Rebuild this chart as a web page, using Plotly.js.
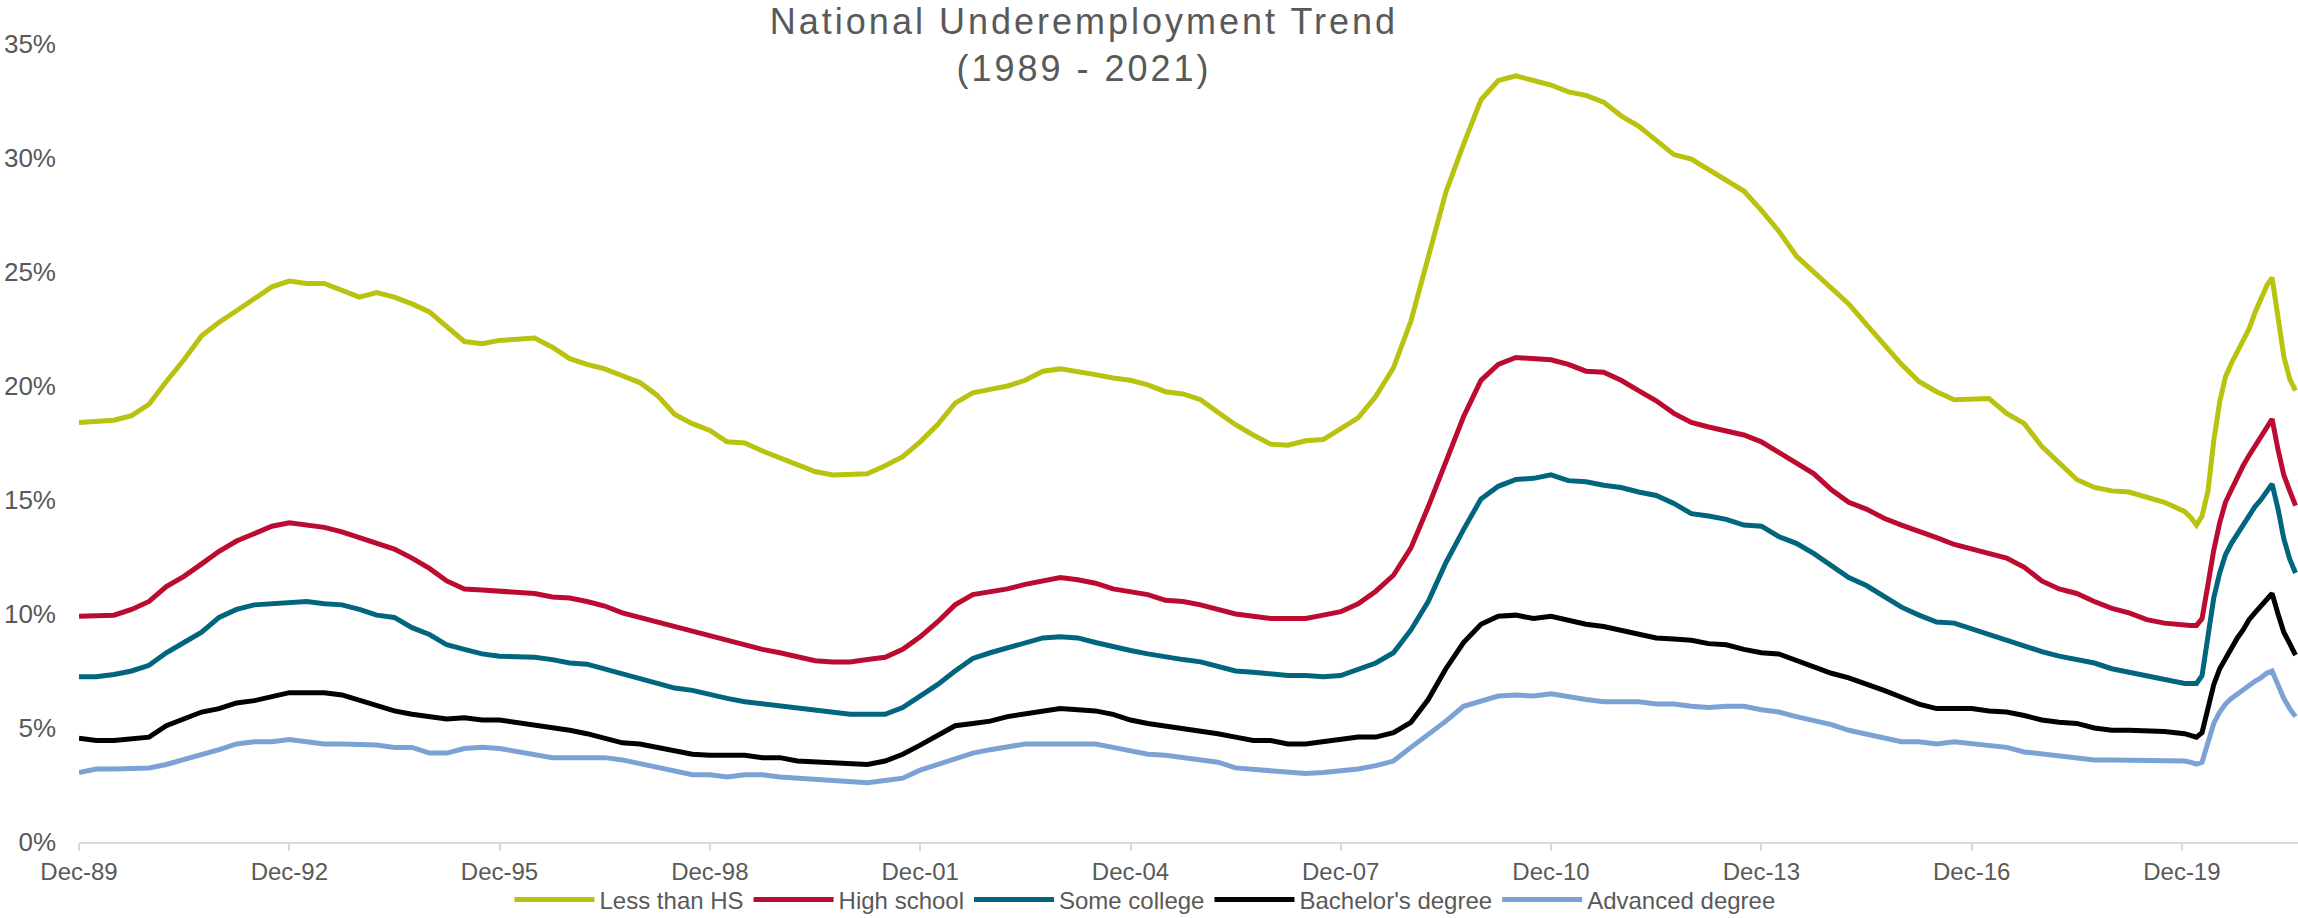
<!DOCTYPE html>
<html>
<head>
<meta charset="utf-8">
<script src="https://cdn.plot.ly/plotly-3.0.1.min.js"></script>
<style>
html,body{margin:0;padding:0;background:#ffffff;}
#chart{width:2298px;height:918px;}
.gtitle{letter-spacing:3px;}
</style>
</head>
<body>
<div id="chart"></div>
<script>
// Observation dates (quarterly readings, then monthly through the 2020-21 spike)
const dates = [
'1989-12-01',
'1990-03-01','1990-06-01','1990-09-01','1990-12-01',
'1991-03-01','1991-06-01','1991-09-01','1991-12-01',
'1992-03-01','1992-06-01','1992-09-01','1992-12-01',
'1993-03-01','1993-06-01','1993-09-01','1993-12-01',
'1994-03-01','1994-06-01','1994-09-01','1994-12-01',
'1995-03-01','1995-06-01','1995-09-01','1995-12-01',
'1996-03-01','1996-06-01','1996-09-01','1996-12-01',
'1997-03-01','1997-06-01','1997-09-01','1997-12-01',
'1998-03-01','1998-06-01','1998-09-01','1998-12-01',
'1999-03-01','1999-06-01','1999-09-01','1999-12-01',
'2000-03-01','2000-06-01','2000-09-01','2000-12-01',
'2001-03-01','2001-06-01','2001-09-01','2001-12-01',
'2002-03-01','2002-06-01','2002-09-01','2002-12-01',
'2003-03-01','2003-06-01','2003-09-01','2003-12-01',
'2004-03-01','2004-06-01','2004-09-01','2004-12-01',
'2005-03-01','2005-06-01','2005-09-01','2005-12-01',
'2006-03-01','2006-06-01','2006-09-01','2006-12-01',
'2007-03-01','2007-06-01','2007-09-01','2007-12-01',
'2008-03-01','2008-06-01','2008-09-01','2008-12-01',
'2009-03-01','2009-06-01','2009-09-01','2009-12-01',
'2010-03-01','2010-06-01','2010-09-01','2010-12-01',
'2011-03-01','2011-06-01','2011-09-01','2011-12-01',
'2012-03-01','2012-06-01','2012-09-01','2012-12-01',
'2013-03-01','2013-06-01','2013-09-01','2013-12-01',
'2014-03-01','2014-06-01','2014-09-01','2014-12-01',
'2015-03-01','2015-06-01','2015-09-01','2015-12-01',
'2016-03-01','2016-06-01','2016-09-01','2016-12-01',
'2017-03-01','2017-06-01','2017-09-01','2017-12-01',
'2018-03-01','2018-06-01','2018-09-01','2018-12-01',
'2019-03-01','2019-06-01','2019-09-01',
'2019-12-15','2020-01-15','2020-02-15','2020-03-15','2020-04-15','2020-05-15','2020-06-15',
'2020-07-15','2020-08-15','2020-09-15','2020-10-15','2020-11-15','2020-12-15',
'2021-01-15','2021-02-15','2021-03-15','2021-04-15','2021-05-15','2021-06-15','2021-07-15'
];

const lessThanHS = [
18.4,18.45,18.5,18.7,19.2,20.2,21.15,22.2,22.8,23.3,23.8,24.35,24.6,24.5,24.5,24.2,23.9,24.1,23.9,23.6,23.25,22.6,21.95,21.85,22.0,22.05,22.1,21.7,21.2,20.95,20.75,20.45,20.15,
19.6,18.75,18.35,18.05,17.55,17.5,17.15,16.85,16.6,16.25,16.1,16.1,16.15,16.5,16.9,17.55,18.3,19.25,19.7,19.85,20.0,20.25,20.65,20.75,20.65,20.5,20.35,20.25,20.05,19.75,19.65,19.4,
18.85,18.3,17.85,17.45,17.4,17.6,17.65,18.1,18.6,19.55,20.8,22.85,25.55,28.5,30.6,32.55,33.4,33.6,33.4,33.2,32.9,32.75,32.45,31.85,31.4,30.75,30.15,29.95,29.5,29.05,28.55,27.7,
26.8,25.7,25.0,24.35,23.6,22.7,21.8,20.95,20.2,19.75,19.4,19.4,19.45,18.8,18.35,17.35,16.6,15.9,15.55,15.4,15.35,15.1,14.9,
14.5,14.25,13.9,14.3,15.4,17.6,19.3,20.4,21.0,21.5,22.0,22.5,23.2,23.75,24.4,24.75,23.0,21.3,20.3,19.8
];

const highSchool = [
9.9,9.95,9.95,10.2,10.55,11.2,11.65,12.2,12.75,13.2,13.55,13.85,14.0,13.9,13.8,13.6,13.35,13.15,12.85,12.45,12.0,11.45,11.1,11.05,11.0,11.0,10.9,10.75,10.7,10.55,10.35,10.05,9.85,
9.6,9.4,9.25,9.05,8.8,8.65,8.45,8.3,8.1,7.95,7.9,7.9,8.0,8.1,8.45,9.0,9.65,10.4,10.85,10.95,11.1,11.3,11.45,11.6,11.5,11.35,11.1,11.0,10.85,10.6,10.55,10.4,
10.2,10.0,9.9,9.8,9.8,9.8,9.95,10.1,10.45,11.0,11.7,12.9,14.7,16.75,18.65,20.25,20.95,21.25,21.2,21.15,20.95,20.65,20.6,20.25,19.8,19.35,18.8,18.4,18.2,18.05,17.85,17.55,
17.1,16.6,16.15,15.45,14.9,14.6,14.2,13.9,13.65,13.35,13.05,12.85,12.7,12.45,12.05,11.45,11.1,10.9,10.55,10.25,10.05,9.75,9.6,
9.5,9.5,9.5,9.8,11.3,12.8,14.0,14.9,15.45,16.0,16.5,16.95,17.35,17.75,18.2,18.55,17.2,16.1,15.4,14.75
];

const someCollege = [
7.25,7.25,7.35,7.5,7.75,8.3,8.75,9.2,9.85,10.2,10.4,10.45,10.55,10.55,10.45,10.4,10.2,9.95,9.85,9.4,9.1,8.65,8.45,8.25,8.15,8.15,8.1,8.0,7.85,7.8,7.6,7.4,7.2,
7.0,6.75,6.65,6.45,6.3,6.15,6.05,6.0,5.85,5.75,5.7,5.6,5.6,5.6,5.9,6.4,6.9,7.5,8.05,8.3,8.5,8.75,8.95,9.0,8.95,8.75,8.55,8.4,8.25,8.1,8.0,7.9,
7.7,7.5,7.45,7.35,7.3,7.3,7.25,7.3,7.55,7.85,8.3,9.3,10.55,12.25,13.7,15.05,15.6,15.9,15.95,16.1,15.85,15.8,15.65,15.55,15.35,15.2,14.85,14.4,14.3,14.15,13.9,13.85,
13.4,13.1,12.65,12.15,11.6,11.25,10.75,10.3,9.95,9.65,9.6,9.35,9.05,8.8,8.55,8.35,8.15,8.0,7.85,7.6,7.45,7.3,7.1,
6.95,6.95,6.95,7.3,9.2,10.7,11.8,12.6,13.1,13.5,13.95,14.35,14.7,15.0,15.35,15.7,14.6,13.3,12.4,11.8
];

const bachelors = [
4.55,4.45,4.45,4.5,4.6,5.1,5.4,5.7,5.85,6.1,6.2,6.4,6.55,6.55,6.55,6.45,6.2,6.0,5.75,5.6,5.5,5.4,5.45,5.35,5.35,5.25,5.1,5.05,4.9,4.75,4.55,4.35,4.3,
4.15,4.0,3.85,3.8,3.8,3.8,3.7,3.7,3.55,3.5,3.45,3.4,3.4,3.55,3.85,4.25,4.7,5.1,5.2,5.3,5.5,5.6,5.75,5.85,5.8,5.75,5.6,5.35,5.2,5.1,4.95,4.9,
4.75,4.6,4.45,4.45,4.3,4.3,4.4,4.45,4.6,4.6,4.8,5.25,6.25,7.6,8.75,9.55,9.9,9.95,9.8,9.9,9.7,9.55,9.45,9.3,9.1,8.95,8.9,8.85,8.7,8.65,8.45,8.3,
8.25,7.95,7.7,7.4,7.2,6.95,6.65,6.35,6.05,5.85,5.85,5.85,5.75,5.7,5.55,5.35,5.25,5.2,5.0,4.9,4.9,4.9,4.85,
4.75,4.65,4.6,4.8,5.8,6.9,7.6,8.05,8.5,8.95,9.3,9.75,10.05,10.35,10.65,10.9,10.0,9.2,8.7,8.2
];

const advanced = [
3.05,3.2,3.2,3.25,3.25,3.4,3.6,3.8,4.05,4.3,4.4,4.4,4.5,4.4,4.3,4.3,4.3,4.25,4.15,4.15,3.9,3.9,4.1,4.15,4.1,3.95,3.8,3.7,3.7,3.7,3.7,3.6,3.45,
3.25,3.1,2.95,2.95,2.85,2.95,2.95,2.85,2.8,2.7,2.7,2.6,2.6,2.7,2.8,3.15,3.4,3.65,3.9,4.05,4.15,4.3,4.3,4.3,4.3,4.3,4.15,4.0,3.85,3.8,3.7,3.6,
3.5,3.25,3.2,3.1,3.05,3.0,3.05,3.1,3.2,3.35,3.55,4.15,4.7,5.3,5.95,6.2,6.4,6.45,6.4,6.5,6.35,6.25,6.15,6.15,6.15,6.05,6.05,5.95,5.9,5.95,5.95,5.8,
5.7,5.5,5.35,5.15,4.9,4.75,4.55,4.4,4.4,4.3,4.4,4.3,4.2,4.15,3.95,3.85,3.75,3.65,3.6,3.6,3.6,3.6,3.6,
3.55,3.5,3.42,3.5,4.4,5.2,5.7,6.05,6.3,6.5,6.7,6.85,7.05,7.2,7.4,7.5,6.9,6.3,5.85,5.5
];

const seriesNames = ['Less than HS', 'High school', 'Some college', "Bachelor's degree", 'Advanced degree'];

const xTickDates = ['1989-12-01','1992-12-01','1995-12-01','1998-12-01','2001-12-01','2004-12-01',
                    '2007-12-01','2010-12-01','2013-12-01','2016-12-01','2019-12-01'];
const xTickLabels = ['Dec-89','Dec-92','Dec-95','Dec-98','Dec-01','Dec-04','Dec-07','Dec-10','Dec-13','Dec-16','Dec-19'];

const yTickValues = [0, 5, 10, 15, 20, 25, 30, 35];
const yTickLabels = ['0%', '5%', '10%', '15%', '20%', '25%', '30%', '35%'];

const colors = ['#B9C20F', '#BC0B31', '#00657D', '#000000', '#7BA2D4'];
const allSeries = [lessThanHS, highSchool, someCollege, bachelors, advanced];

const traces = allSeries.map((vals, i) => ({
  type: 'scatter',
  mode: 'lines',
  x: dates,
  y: vals,
  name: seriesNames[i],
  line: {color: colors[i], width: 5, shape: 'linear'},
  hoverinfo: 'skip'
}));

const layout = {
  width: 2298,
  height: 918,
  margin: {l: 79, r: 0, t: 44, b: 76, pad: 0, autoexpand: false},
  paper_bgcolor: '#ffffff',
  plot_bgcolor: '#ffffff',
  font: {family: 'Liberation Sans, Arial, sans-serif', color: '#595959'},
  title: {
    text: 'National Underemployment Trend<br>(1989 - 2021)',
    font: {size: 36, color: '#595959', family: 'Liberation Sans, Arial, sans-serif'},
    x: 0.4717, xref: 'container', xanchor: 'center',
    y: 0.963, yref: 'container', yanchor: 'top'
  },
  xaxis: {
    type: 'date',
    range: ['1989-12-01', '2021-07-28'],
    tickmode: 'array',
    tickvals: xTickDates,
    ticktext: xTickLabels,
    ticks: 'outside', ticklen: 7, tickwidth: 2, tickcolor: '#D9D9D9',
    showline: true, linecolor: '#D9D9D9', linewidth: 2,
    showgrid: false, zeroline: false,
    tickfont: {size: 24, color: '#595959'},
    automargin: false,
    fixedrange: true
  },
  yaxis: {
    range: [0, 35],
    tickmode: 'array',
    tickvals: yTickValues,
    ticktext: yTickLabels,
    ticks: '', showline: false, showgrid: false, zeroline: false,
    tickfont: {size: 26, color: '#595959'},
    ticklabelstandoff: 22,
    automargin: false,
    fixedrange: true
  },
  showlegend: true,
  legend: {
    orientation: 'h',
    x: 0.4804, xanchor: 'center',
    y: -0.0727, yanchor: 'middle',
    font: {size: 24, color: '#595959'},
    itemwidth: 80,
    traceorder: 'normal',
    bgcolor: 'rgba(0,0,0,0)'
  }
};

Plotly.newPlot('chart', traces, layout, {staticPlot: true, displayModeBar: false});
</script>
</body>
</html>
